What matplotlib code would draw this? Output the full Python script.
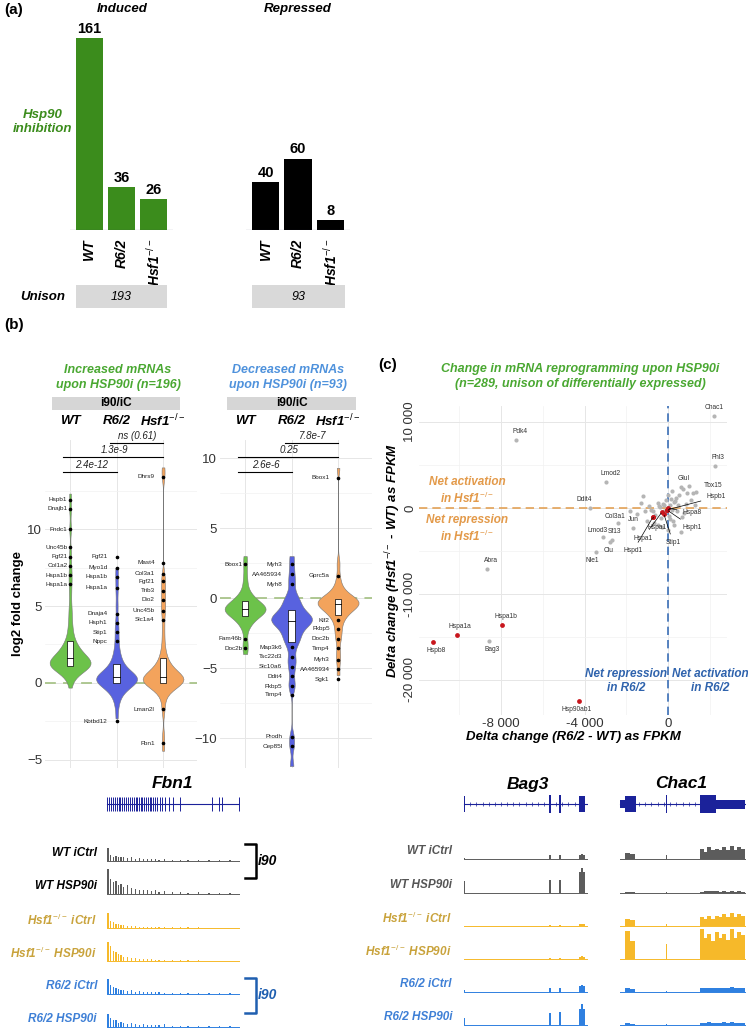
import numpy as np
import matplotlib
matplotlib.use('Agg')
import matplotlib.pyplot as plt
from matplotlib.patches import Rectangle
from matplotlib.lines import Line2D

plt.rcParams['font.family'] = ['Liberation Sans', 'DejaVu Sans']
plt.rcParams['mathtext.fontset'] = 'custom'
plt.rcParams['mathtext.rm'] = 'Liberation Sans'
plt.rcParams['mathtext.it'] = 'Liberation Sans:italic'
plt.rcParams['mathtext.bf'] = 'Liberation Sans:bold'

W, H = 748, 1030
KO = r'Hsf1$^{-/-}$'

# ---------------- (a) gene counts ----------------
groups = ['WT', 'R6/2', KO]
induced = [161, 36, 26]
repressed = [40, 60, 8]
unison = [193, 93]

# ---------------- (b) log2 fold change (representative values) ----------------
up_wt = [-0.3, 0.2, 0.4, 0.6, 0.7, 0.8, 0.8, 0.9, 0.9, 1.0, 1.0, 1.0, 1.1, 1.1, 1.1, 1.2, 1.2,
         1.2, 1.2, 1.3, 1.3, 1.3, 1.4, 1.4, 1.4, 1.5, 1.5, 1.5, 1.6, 1.6, 1.7, 1.7, 1.8, 1.8,
         1.9, 2.0, 2.0, 2.1, 2.2, 2.3, 2.4, 2.5, 2.6, 2.8, 3.0, 3.3, 3.6, 4.0, 4.5, 5.0, 5.8,
         6.5, 7.0, 7.6, 8.5, 10.0, 11.3, 12.3]
up_r62 = [-2.3, -1.5, -1.1, -0.8, -0.6, -0.5, -0.4, -0.3, -0.2, -0.1, -0.1, 0.0, 0.0, 0.1, 0.1,
          0.1, 0.2, 0.2, 0.2, 0.3, 0.3, 0.3, 0.3, 0.4, 0.4, 0.4, 0.5, 0.5, 0.6, 0.6, 0.7, 0.8,
          0.9, 1.0, 1.1, 1.2, 1.4, 1.6, 1.8, 2.1, 2.5, 3.0, 3.5, 4.0, 5.0, 6.0, 6.8, 7.5]
up_ko = [-4.4, -3.5, -1.8, -1.2, -0.7, -0.5, -0.4, -0.3, -0.2, -0.1, -0.1, 0.0, 0.0, 0.1, 0.1,
         0.1, 0.2, 0.2, 0.2, 0.2, 0.3, 0.3, 0.3, 0.4, 0.4, 0.5, 0.5, 0.6, 0.6, 0.7, 0.8, 0.9,
         1.0, 1.1, 1.2, 1.4, 1.6, 1.9, 2.3, 3.0, 3.8, 4.6, 5.0, 5.5, 6.0, 6.5, 7.0, 13.4, 14.0]
dn_wt = [-4.0, -3.5, -3.0, -2.2, -1.9, -1.7, -1.5, -1.4, -1.3, -1.2, -1.1, -1.0, -1.0, -0.9,
         -0.9, -0.8, -0.8, -0.8, -0.7, -0.7, -0.6, -0.6, -0.5, -0.4, -0.3, -0.2, -0.1, 0.0,
         0.2, 0.4, 0.9, 1.5, 2.3, 3.0]
dn_r62 = [-12.0, -10.6, -9.9, -6.5, -6.0, -5.2, -4.6, -4.3, -3.6, -3.2, -3.0, -2.8, -2.6, -2.4,
          -2.2, -2.0, -1.9, -1.8, -1.7, -1.6, -1.6, -1.5, -1.5, -1.4, -1.3, -1.2, -1.1, -1.0,
          -0.8, -0.6, -0.4, -0.2, 0.0, 0.3, 1.0, 1.5, 2.2, 3.0]
dn_ko = [-5.5, -4.5, -3.9, -3.0, -2.6, -2.2, -1.8, -1.5, -1.3, -1.1, -1.0, -0.9, -0.8, -0.7,
         -0.6, -0.5, -0.5, -0.4, -0.4, -0.3, -0.3, -0.3, -0.2, -0.2, -0.1, -0.1, 0.0, 0.1, 0.2,
         0.4, 0.6, 0.9, 1.5, 2.5, 9.3]

up_wt_genes = ['Hspb1', 'Dnajb1', 'Fndc1', 'Unc45b', 'Fgf21', 'Col1a2', 'Hspa1b', 'Hspa1a']
up_wt_vals = [11.9, 11.3, 10.0, 8.8, 8.2, 7.6, 7.0, 6.4]
up_r62_genes = ['Fgf21', 'Myo1d', 'Hspa1b', 'Hspa1a', 'Dnaja4', 'Hsph1', 'Stip1', 'Nppc', 'Kbtbd12']
up_r62_vals = [8.2, 7.5, 6.9, 6.2, 4.5, 3.9, 3.3, 2.7, -2.5]
up_ko_genes = ['Dhrs9', 'Mast4', 'Col3a1', 'Fgf21', 'Trib3', 'Dio2', 'Unc45b', 'Slc1a4', 'Lman2l', 'Fbn1']
up_ko_vals = [13.4, 7.8, 7.1, 6.6, 6.0, 5.4, 4.7, 4.1, -1.7, -3.9]
dn_wt_genes = ['Bbox1', 'Fam46b', 'Doc2b']
dn_wt_vals = [2.4, -2.9, -3.6]
dn_r62_genes = ['Myh3', 'AA465934', 'Myh8', 'Map3k6', 'Tsc22d3', 'Slc10a6', 'Ddit4', 'Fkbp5',
                'Timp4', 'Prodh', 'Cep85l']
dn_r62_vals = [2.4, 1.7, 1.0, -3.5, -4.2, -4.9, -5.6, -6.3, -6.9, -9.9, -10.6]
dn_ko_genes = ['Bbox1', 'Gprc5a', 'Klf2', 'Fkbp5', 'Doc2b', 'Timp4', 'Myh3', 'AA465934', 'Sgk1']
dn_ko_vals = [8.6, 1.6, -1.6, -2.2, -2.9, -3.6, -4.4, -5.1, -5.8]

up_pvals = [('2.4e-12', 1, 2, 13.7), ('1.3e-9', 1, 3, 14.7), ('ns (0.61)', 2, 3, 15.6)]
dn_pvals = [('2.6e-6', 1, 2, 9.0), ('0.25', 1, 3, 10.1), ('7.8e-7', 2, 3, 11.1)]

# ---------------- (c) delta FPKM ----------------
gray_x = [-1200, -900, -700, -500, -400, -300, -200, -100, 0, 100, 200, 300, 400, 500, 700,
          900, 1100, 1300, -600, -350, -150, 50, 250, 450, 650, -800, -450, -250, 150, 350,
          550, -1000, -650, -300, 0, 300, 600, 850, -1500, -1100, 200, 1000, -200, 100, -500,
          -1800, -1300, 750, 1200, -50]
gray_y = [1400, 200, -300, 600, 100, -500, 300, 900, 1500, 400, -200, 700, 1200, 300, 2200,
          1700, 900, 300, -800, -1200, -600, -900, -1500, -400, -1000, -200, 200, 500, 1000,
          800, 1500, -1500, -1800, -2200, -2600, -2000, -2800, 500, -700, -300, 2000, 2600,
          -300, -1300, -2000, -400, 600, -600, 1700, -100]
named_gray = ['Chac1', 'Pdk4', 'Fhl3', 'Lmod2', 'Glul', 'Tbx15', 'Ddit4', 'Col3a1', 'Jun',
              'Sf13', 'Lmod3', 'Clu', 'Nle1', 'Abra', 'Bag3']
named_gray_x = [2200, -7280, 2250, -2970, 600, 1340, -3740, -2400, -1680, -2680, -3110, -2780,
                -3450, -8670, -8570]
named_gray_y = [10700, 7910, 4880, 3020, 2440, 1860, 0, -1740, -2320, -3720, -3370, -3950,
                -5120, -7090, -15470]
named_red = ['Hspb8', 'Hspa1a', 'Hspa1b', 'Hsp90ab1']
named_red_x = [-11250, -10100, -7950, -4260]
named_red_y = [-15580, -14770, -13610, -22450]
origin_red = ['Hspa1', 'Hspd1', 'Hspa1', 'Hspb1', 'Hspa8', 'Hsph1', 'Stip1']
origin_red_x = [-720, -720, -290, -50, 0, -50, -200]
origin_red_y = [-1050, -1050, -470, -230, 0, -230, -700]

# ---------------- genome tracks ----------------
track_names = ['WT iCtrl', 'WT HSP90i', KO + ' iCtrl', KO + ' HSP90i', 'R6/2 iCtrl', 'R6/2 HSP90i']

fbn1_exons = [0.0, 0.015, 0.03, 0.045, 0.06, 0.075, 0.09, 0.1, 0.115, 0.13, 0.145, 0.16, 0.175,
              0.19, 0.2, 0.215, 0.225, 0.24, 0.255, 0.265, 0.28, 0.295, 0.31, 0.325, 0.335,
              0.35, 0.365, 0.38, 0.4, 0.42, 0.44, 0.47, 0.5, 0.55, 0.8, 0.85, 0.87, 1.0]
fbn1_bins = [0.005, 0.025, 0.045, 0.065, 0.085, 0.105, 0.125, 0.155, 0.185, 0.215, 0.245,
             0.275, 0.305, 0.335, 0.365, 0.395, 0.435, 0.495, 0.555, 0.615, 0.695, 0.775,
             0.855, 0.935]
fbn1_cov = [
    [0.45, 0.2, 0.15, 0.18, 0.12, 0.15, 0.12, 0.1, 0.12, 0.08, 0.1, 0.07, 0.08, 0.06, 0.07,
     0.05, 0.06, 0.05, 0.05, 0.04, 0.05, 0.03, 0.04, 0.03],
    [0.85, 0.5, 0.4, 0.45, 0.3, 0.35, 0.25, 0.3, 0.2, 0.18, 0.15, 0.12, 0.14, 0.1, 0.12, 0.08,
     0.1, 0.08, 0.06, 0.05, 0.06, 0.04, 0.04, 0.03],
    [0.5, 0.25, 0.2, 0.15, 0.12, 0.1, 0.1, 0.08, 0.07, 0.06, 0.05, 0.05, 0.05, 0.04, 0.04,
     0.03, 0.03, 0.02, 0.02, 0.02, 0.02, 0.01, 0.01, 0.01],
    [0.65, 0.5, 0.35, 0.3, 0.25, 0.2, 0.15, 0.12, 0.1, 0.1, 0.08, 0.08, 0.07, 0.06, 0.05,
     0.05, 0.04, 0.03, 0.02, 0.02, 0.02, 0.01, 0.01, 0.01],
    [0.5, 0.3, 0.25, 0.2, 0.18, 0.12, 0.15, 0.1, 0.12, 0.08, 0.1, 0.07, 0.08, 0.06, 0.07,
     0.06, 0.05, 0.05, 0.04, 0.03, 0.03, 0.02, 0.02, 0.02],
    [0.45, 0.3, 0.25, 0.22, 0.15, 0.18, 0.12, 0.1, 0.12, 0.1, 0.08, 0.1, 0.07, 0.08, 0.06,
     0.07, 0.1, 0.05, 0.04, 0.03, 0.03, 0.02, 0.02, 0.02],
]

bag3_exon_start = [0.0, 0.695, 0.775, 0.935]
bag3_exon_width = [0.008, 0.014, 0.014, 0.05]
bag3_exon_height = [0.9, 1.0, 1.0, 0.9]
bag3_bins = [0.0, 0.695, 0.775, 0.935, 0.955, 0.972]
bag3_bin_width = [0.01, 0.015, 0.015, 0.02, 0.017, 0.015]
bag3_cov = [
    [0.05, 0.12, 0.12, 0.15, 0.18, 0.15],
    [0.4, 0.45, 0.45, 0.7, 0.85, 0.7],
    [0.0, 0.02, 0.03, 0.06, 0.08, 0.07],
    [0.0, 0.02, 0.03, 0.08, 0.1, 0.08],
    [0.08, 0.12, 0.12, 0.2, 0.25, 0.2],
    [0.25, 0.4, 0.45, 0.55, 0.7, 0.55],
]

chac1_exon_start = [0.0, 0.04, 0.365, 0.64, 0.77]
chac1_exon_width = [0.04, 0.09, 0.01, 0.13, 0.23]
chac1_exon_height = [0.45, 0.9, 1.0, 1.0, 0.5]
chac1_bins = [0.04, 0.08, 0.365, 0.64, 0.67, 0.70, 0.73, 0.76, 0.79, 0.82, 0.85, 0.88, 0.91,
              0.94, 0.97]
chac1_bin_width = [0.04, 0.04, 0.01, 0.03, 0.03, 0.03, 0.03, 0.03, 0.03, 0.03, 0.03, 0.03,
                   0.03, 0.03, 0.03]
chac1_cov = [
    [0.2, 0.18, 0.15, 0.35, 0.25, 0.4, 0.3, 0.35, 0.3, 0.4, 0.3, 0.45, 0.3, 0.4, 0.35],
    [0.04, 0.04, 0.03, 0.05, 0.06, 0.08, 0.06, 0.08, 0.05, 0.08, 0.05, 0.08, 0.05, 0.07, 0.05],
    [0.25, 0.2, 0.08, 0.3, 0.25, 0.35, 0.25, 0.35, 0.3, 0.4, 0.3, 0.45, 0.3, 0.4, 0.35],
    [0.95, 0.6, 0.5, 1.0, 0.7, 0.85, 0.6, 0.9, 0.7, 0.85, 0.65, 1.0, 0.7, 0.9, 0.8],
    [0.12, 0.1, 0.05, 0.15, 0.12, 0.15, 0.12, 0.15, 0.12, 0.15, 0.12, 0.18, 0.12, 0.15, 0.12],
    [0.06, 0.05, 0.03, 0.08, 0.06, 0.1, 0.06, 0.08, 0.06, 0.1, 0.06, 0.1, 0.06, 0.08, 0.06],
]

GREEN_A = '#3b8c1c'
GREEN_T = '#4aa832'
BLUE_T = '#4f92dc'
VIOLIN_COLS = ['#6cc24a', '#5862df', '#f3a35c']
TRACK_COLS = ['#5c5c5c', '#5c5c5c', '#f6b92a', '#f6b92a', '#2f80e0', '#2f80e0']

fig = plt.figure(figsize=(W / 100, H / 100), dpi=100)


def px_axes(x0, y0, x1, y1):
    return fig.add_axes([x0 / W, 1 - y1 / H, (x1 - x0) / W, (y1 - y0) / H])


def ftext(x, y, s, **kw):
    fig.text(x / W, 1 - y / H, s, **kw)


def fline(xs, ys, **kw):
    fig.add_artist(Line2D([x / W for x in xs], [1 - y / H for y in ys],
                          transform=fig.transFigure, **kw))


def frect(x0, y0, x1, y1, **kw):
    fig.add_artist(Rectangle((x0 / W, 1 - y1 / H), (x1 - x0) / W, (y1 - y0) / H,
                             transform=fig.transFigure, **kw))


def clean(ax):
    for s in ax.spines.values():
        s.set_visible(False)
    ax.tick_params(length=0)


# ================= panel (a) =================
ftext(4, 10, '(a)', fontsize=11, fontweight='bold', va='center')
ftext(122, 9, 'Induced', fontsize=9.5, fontweight='bold', fontstyle='italic', ha='center', va='center')
ftext(298, 9, 'Repressed', fontsize=9.5, fontweight='bold', fontstyle='italic', ha='center', va='center')
ftext(43, 122, 'Hsp90\ninhibition', fontsize=9.5, fontweight='bold', fontstyle='italic',
      ha='center', va='center', color=GREEN_A, linespacing=1.3)

for (x0, x1), vals, col in [((70, 173), induced, GREEN_A), ((246, 350), repressed, 'black')]:
    ax = px_axes(x0, 30, x1, 230)
    ax.bar(range(3), vals, width=0.84, color=col)
    for i, v in enumerate(vals):
        ax.text(i, v + 2, str(v), ha='center', va='bottom', fontsize=10.5, fontweight='bold')
    ax.axhline(0, color='#333355', lw=0.8)
    ax.set_ylim(0, 168)
    ax.set_xlim(-0.6, 2.6)
    ax.set_yticks([])
    ax.set_xticks(range(3))
    ax.set_xticklabels(groups, rotation=90, fontsize=10, fontweight='bold', fontstyle='italic')
    clean(ax)
    ax.tick_params(axis='x', pad=6)

ftext(43, 297, 'Unison', fontsize=9.5, fontweight='bold', fontstyle='italic', ha='center', va='center')
for (x0, x1), n in zip([(76, 167), (252, 345)], unison):
    frect(x0, 285, x1, 308, facecolor='#d9d9d9', edgecolor='none')
    ftext((x0 + x1) / 2, 297, str(n), fontsize=9, fontstyle='italic', ha='center', va='center')

# ================= panel (b) =================
ftext(4, 325, '(b)', fontsize=11, fontweight='bold', va='center')


def violin_panel(rect, data, genes, gvals, label_dx, pvals, ylim, title, tcol, title_x, hdr):
    ax = px_axes(*rect)
    ax.axhline(0, color='#a9c48a', lw=1.3, ls=(0, (6, 4)), zorder=0.8)
    for i, d in enumerate(data):
        pos = i + 1
        parts = ax.violinplot([d], positions=[pos], widths=0.88, showextrema=False,
                              bw_method=0.42 / np.std(d))
        for pc in parts['bodies']:
            pc.set_facecolor(VIOLIN_COLS[i])
            pc.set_edgecolor('#777777')
            pc.set_linewidth(0.4)
            pc.set_alpha(1)
            pc.set_zorder(2)
        q1, med, q3 = np.percentile(d, [25, 50, 75])
        ax.add_patch(Rectangle((pos - 0.07, q1), 0.14, q3 - q1, facecolor='white',
                               edgecolor='black', lw=0.5, zorder=3))
        ax.plot([pos - 0.07, pos + 0.07], [med, med], color='black', lw=0.6, zorder=4)
        ax.plot([pos] * len(gvals[i]), gvals[i], 'o', ms=1.6, color='black', zorder=5)
        for g, v in zip(genes[i], gvals[i]):
            ax.text(pos - label_dx[i], v, g, ha='right', va='center', fontsize=4.6, color='#222222',
                    zorder=6)
    for lab, a, b, y in pvals:
        ax.plot([a - 0.15, b], [y, y], color='black', lw=0.8, clip_on=False)
        ax.text((a + b) / 2 - 0.05, y + 0.12, lab, ha='center', va='bottom', fontsize=7,
                fontstyle='italic', color='#222222')
    ax.set_xticks([1, 2, 3])
    ax.set_xticklabels([])
    ax.set_yticks([-10, -5, 0, 5, 10])
    ax.set_yticks([-12.5, -7.5, -2.5, 2.5, 7.5, 12.5], minor=True)
    ax.set_xlim(0.46, 3.73)
    ax.set_ylim(*ylim)
    ax.grid(True, which='major', color='#e6e6e6', lw=0.7)
    ax.grid(True, which='minor', axis='y', color='#f2f2f2', lw=0.5)
    ax.set_axisbelow(True)
    ax.tick_params(axis='y', labelsize=9.5, labelcolor='#333333', pad=2)
    clean(ax)
    ax.tick_params(which='minor', length=0)
    # headers
    ftext(title_x, 370, title.split('\n')[0], fontsize=9, fontweight='bold', fontstyle='italic',
          color=tcol, ha='center', va='center')
    ftext(title_x, 385, title.split('\n')[1], fontsize=9, fontweight='bold', fontstyle='italic',
          color=tcol, ha='center', va='center')
    frect(hdr[0], 397, hdr[1], 410, facecolor='#d6d6d6', edgecolor='none')
    ftext((hdr[0] + hdr[1]) / 2, 403.5, 'i90/iC', fontsize=8.5, fontweight='bold', ha='center',
          va='center')
    tr = ax.get_xaxis_transform()
    yhead = 1 + (rect[1] - 421) / (rect[3] - rect[1])
    for i, g in enumerate(groups):
        ax.text(i + 1, yhead, g, transform=tr, ha='center', va='center', fontsize=9.5,
                fontweight='bold', fontstyle='italic', clip_on=False)
    return ax


axl = violin_panel((45, 440, 197, 768), [up_wt, up_r62, up_ko],
                   [up_wt_genes, up_r62_genes, up_ko_genes],
                   [up_wt_vals, up_r62_vals, up_ko_vals], [0.06, 0.2, 0.18], up_pvals,
                   (-5.52, 15.78), 'Increased mRNAs\nupon HSP90i (n=196)', GREEN_T, 118, (52, 180))
axl.set_ylabel('log2 fold change', fontsize=9.5, fontweight='bold', labelpad=2)
axl.set_yticks([-5, 0, 5, 10])
axl.set_ylim(-5.52, 15.78)

axr = violin_panel((220, 440, 372, 768), [dn_wt, dn_r62, dn_ko],
                   [dn_wt_genes, dn_r62_genes, dn_ko_genes],
                   [dn_wt_vals, dn_r62_vals, dn_ko_vals], [0.06, 0.2, 0.18], dn_pvals,
                   (-12.14, 11.29), 'Decreased mRNAs\nupon HSP90i (n=93)', BLUE_T, 288, (227, 356))

# ================= panel (c) =================
ftext(378, 365, '(c)', fontsize=11, fontweight='bold', va='center')
ftext(580, 369, 'Change in mRNA reprogramming upon HSP90i', fontsize=9, fontweight='bold',
      fontstyle='italic', color=GREEN_T, ha='center', va='center')
ftext(580, 384, '(n=289, unison of differentially expressed)', fontsize=9, fontweight='bold',
      fontstyle='italic', color=GREEN_T, ha='center', va='center')

axc = px_axes(419, 406, 727, 715)
axc.axhline(0, color='#e3a257', lw=1.2, ls=(0, (5, 3)), zorder=1)
axc.axvline(0, color='#3b6fb6', lw=1.2, ls=(0, (5, 3)), zorder=1)
axc.scatter(gray_x, gray_y, s=9, color='#b5b5b5', linewidths=0, zorder=2)
axc.scatter(named_gray_x, named_gray_y, s=9, color='#b5b5b5', linewidths=0, zorder=2)
axc.scatter(named_red_x, named_red_y, s=12, color='#c8161d', linewidths=0, zorder=3)
axc.scatter(origin_red_x, origin_red_y, s=12, color='#c8161d', linewidths=0, zorder=3)

gray_off = [(0, 6), (3, 6), (2, 6), (3, 6), (2, 6), (12, 5), (-4, 6), (-2, 5), (0, 6),
            (2, 6), (-4, 5), (-1, -6), (-3, -6), (3, 6), (2, -6)]
for g, x, y, (dx, dy) in zip(named_gray, named_gray_x, named_gray_y, gray_off):
    axc.annotate(g, (x, y), xytext=(dx, dy), textcoords='offset points', ha='center',
                 va='center', fontsize=4.8, color='#333333')
red_off = [(2, -6), (2, 6), (3, 6), (-2, -6)]
for g, x, y, (dx, dy) in zip(named_red, named_red_x, named_red_y, red_off):
    axc.annotate(g, (x, y), xytext=(dx, dy), textcoords='offset points', ha='center',
                 va='center', fontsize=4.8, color='#333333')
origin_lab = [(-530, -2210), (-1680, -5000), (-1200, -3490), (2300, 1280), (1150, -580),
              (1150, -2210), (250, -4070)]
for g, x, y, (tx, ty) in zip(origin_red, origin_red_x, origin_red_y, origin_lab):
    axc.annotate(g, (x, y), xytext=(tx, ty), textcoords='data', ha='center', va='center',
                 fontsize=4.8, color='#333333',
                 arrowprops=dict(arrowstyle='-', color='black', lw=0.5, shrinkA=2, shrinkB=1))

axc.set_xticks([-8000, -4000, 0])
axc.set_xticklabels(['-8 000', '-4 000', '0'])
axc.set_xticks([-10000, -6000, -2000, 2000], minor=True)
axc.set_yticks([-20000, -10000, 0, 10000])
axc.set_yticklabels(['-20 000', '-10 000', '0', '10 000'], rotation=90, va='center')
axc.set_yticks([-15000, -5000, 5000], minor=True)
axc.set_xlim(-11930, 2826)
axc.set_ylim(-24070, 11860)
axc.grid(True, which='major', color='#e6e6e6', lw=0.7)
axc.grid(True, which='minor', color='#f2f2f2', lw=0.5)
axc.set_axisbelow(True)
axc.tick_params(labelsize=9.5, labelcolor='#333333', pad=2)
clean(axc)
axc.tick_params(which='minor', length=0)
axc.set_xlabel('Delta change (R6/2 - WT) as FPKM', fontsize=9.5, fontweight='bold',
               fontstyle='italic', labelpad=1)
axc.set_ylabel('Delta change (' + KO + ' - WT) as FPKM', fontsize=9.5, fontweight='bold',
               fontstyle='italic', labelpad=1)

ORANGE_T = '#e39a4a'
BLUE_C = '#2f63ad'
ftext(467, 491, 'Net activation\nin ' + KO, fontsize=8.5, fontweight='bold', fontstyle='italic',
      color=ORANGE_T, ha='center', va='center', linespacing=1.3)
ftext(467, 529, 'Net repression\nin ' + KO, fontsize=8.5, fontweight='bold', fontstyle='italic',
      color=ORANGE_T, ha='center', va='center', linespacing=1.3)
ftext(626, 681, 'Net repression\nin R6/2', fontsize=8.5, fontweight='bold', fontstyle='italic',
      color=BLUE_C, ha='center', va='center', linespacing=1.3)
ftext(710, 681, 'Net activation\nin R6/2', fontsize=8.5, fontweight='bold', fontstyle='italic',
      color=BLUE_C, ha='center', va='center', linespacing=1.3)

# ================= genome tracks =================
NAVY = '#1b229a'
ftext(172, 783, 'Fbn1', fontsize=12.5, fontweight='bold', fontstyle='italic', ha='center', va='center')
ftext(528, 784, 'Bag3', fontsize=12.5, fontweight='bold', fontstyle='italic', ha='center', va='center')
ftext(681, 784, 'Chac1', fontsize=12.5, fontweight='bold', fontstyle='italic', ha='center', va='center')

# gene models
axg = px_axes(106, 795, 240, 813)
axg.plot([0, 1], [0, 0], color=NAVY, lw=0.8)
axg.vlines(fbn1_exons, -0.8, 0.8, color=NAVY, lw=0.7)
axg.set_xlim(-0.01, 1.01)
axg.set_ylim(-1, 1)
axg.axis('off')

for rect, st, wd, ht in [((463, 795, 588, 813), bag3_exon_start, bag3_exon_width, bag3_exon_height),
                         ((619, 795, 746, 813), chac1_exon_start, chac1_exon_width, chac1_exon_height)]:
    ax = px_axes(*rect)
    ax.plot([0, 1], [0, 0], color=NAVY, lw=0.8)
    ax.vlines(np.arange(0.05, 1.0, 0.05), -0.2, 0.2, color=NAVY, lw=0.5)
    ax.bar(st, [2 * h for h in ht], width=wd, bottom=[-h for h in ht], align='edge', color=NAVY)
    ax.set_xlim(-0.01, 1.01)
    ax.set_ylim(-1, 1)
    ax.axis('off')

left_base = [861, 894, 928, 961, 994, 1027]
right_base = [859, 893, 926, 959, 992, 1025]
left_lab_cols = ['black', 'black', '#c9a33c', '#c9a33c', '#3f80d6', '#3f80d6']
right_lab_cols = ['#555555', '#555555', '#c9a33c', '#c9a33c', '#3f80d6', '#3f80d6']

for k in range(6):
    col = TRACK_COLS[k]
    ax = px_axes(106, left_base[k] - 30, 240, left_base[k] + 1)
    ax.bar(fbn1_bins, fbn1_cov[k], width=0.011, color=col)
    ax.plot([0, 1], [0, 0], color=col, lw=0.7)
    ax.set_xlim(-0.01, 1.01)
    ax.set_ylim(-0.03, 1)
    ax.axis('off')
    ftext(97, left_base[k] - 8, track_names[k], fontsize=8.5, fontweight='bold', fontstyle='italic',
          color=left_lab_cols[k], ha='right', va='center')

    for (x0, x1), bins, bw, cov in [((463, 588), bag3_bins, bag3_bin_width, bag3_cov),
                                   ((619, 746), chac1_bins, chac1_bin_width, chac1_cov)]:
        ax = px_axes(x0, right_base[k] - 30, x1, right_base[k] + 1)
        ax.bar(bins, cov[k], width=bw, align='edge', color=col)
        ax.plot([0, 1], [0, 0], color=col, lw=0.7)
        ax.set_xlim(-0.01, 1.01)
        ax.set_ylim(-0.03, 1)
        ax.axis('off')
    ftext(452, right_base[k] - 8, track_names[k], fontsize=8.5, fontweight='bold',
          fontstyle='italic', color=right_lab_cols[k], ha='right', va='center')

fline([245, 256, 256, 245], [844, 844, 878, 878], color='black', lw=1.8)
ftext(258, 861, 'i90', fontsize=10, fontweight='bold', fontstyle='italic', va='center')
fline([245, 256, 256, 245], [978, 978, 1013, 1013], color='#1f5fb0', lw=1.8)
ftext(258, 995, 'i90', fontsize=10, fontweight='bold', fontstyle='italic', va='center',
      color='#1f5fb0')

fig.savefig('out.png', dpi=100)
